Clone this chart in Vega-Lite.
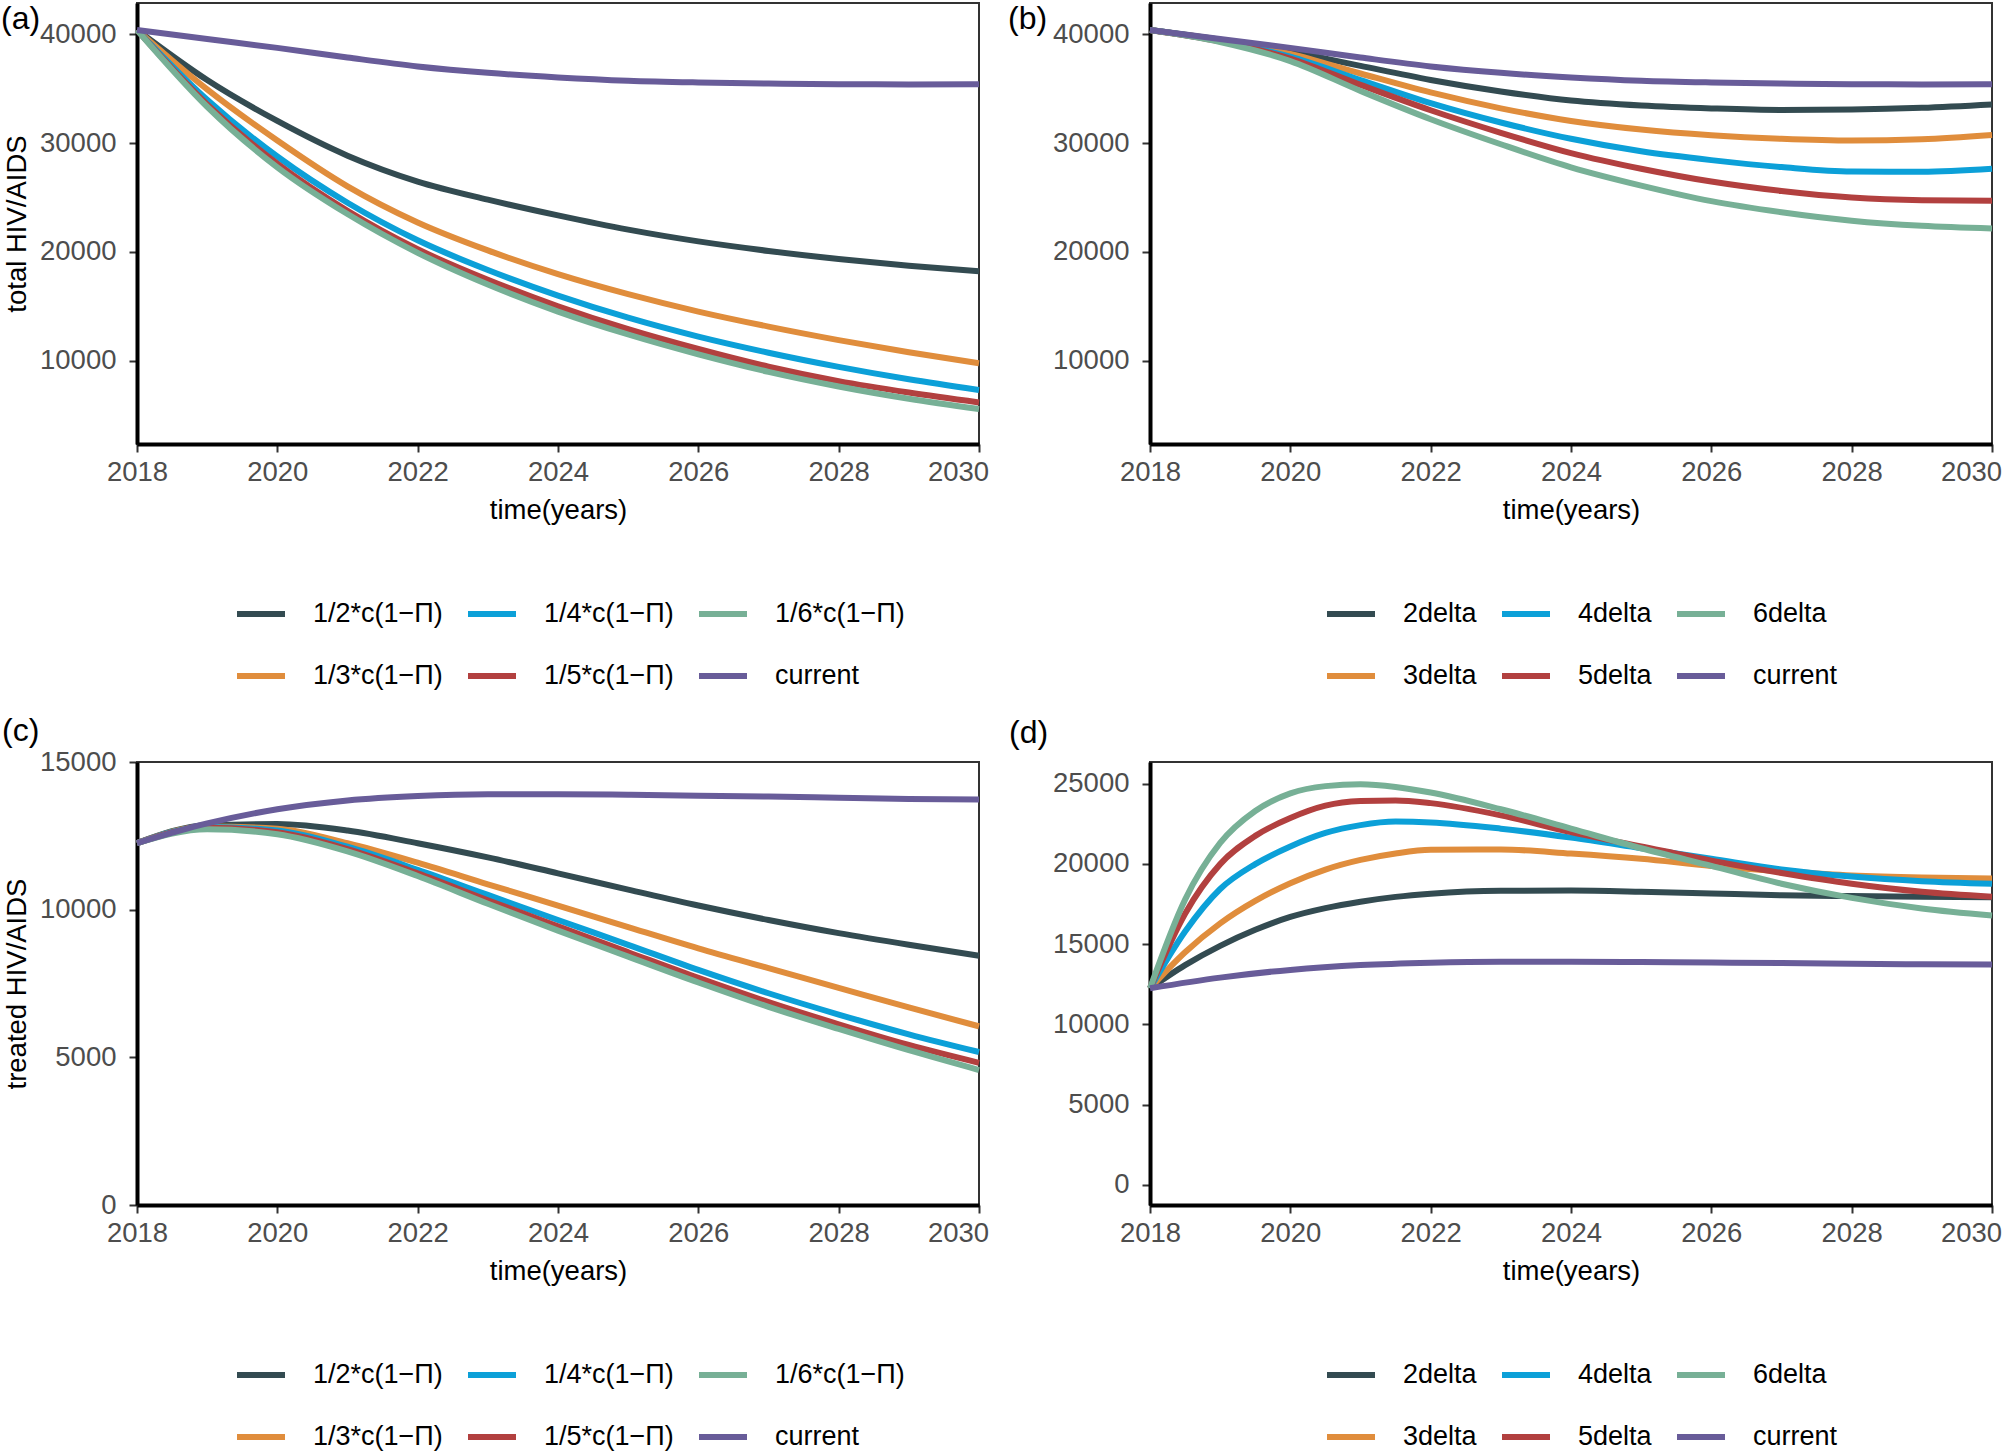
{
  "$schema": "https://vega.github.io/schema/vega-lite/v6.json",
  "background": "white",
  "padding": {"left": 0, "top": 2, "right": 0, "bottom": 0},
  "bounds": "flush",
  "columns": 2,
  "spacing": {"row": 318, "column": 171},
  "config": {
    "font": "Liberation Sans",
    "view": {"stroke": "#333333", "strokeWidth": 2},
    "axis": {
      "grid": false, "domainColor": "black", "domainWidth": 4,
      "tickColor": "#333333", "tickWidth": 2, "tickSize": 8,
      "labelFont": "Liberation Sans", "labelFontSize": 27.5, "labelColor": "#4D4D4D",
      "titleFont": "Liberation Sans", "titleFontSize": 27.5, "titleFontWeight": "normal", "titleColor": "black",
      "labelFlush": false, "labelOverlap": false
    },
    "axisX": {"labelPadding": 6, "titlePadding": 11},
    "axisY": {"labelPadding": 13, "titlePadding": 8},
    "legend": {
      "orient": "none", "direction": "horizontal", "columns": 3,
      "symbolType": "stroke", "symbolSize": 2304, "symbolStrokeWidth": 6,
      "labelFont": "Liberation Sans", "labelFontSize": 27, "labelColor": "black",
      "labelOffset": 25, "columnPadding": 13, "rowPadding": 22, "padding": 0, "labelLimit": 400
    },
    "title": {"font": "Liberation Sans", "fontSize": 32, "fontWeight": "normal", "color": "black"}
  },
  "resolve": {"scale": {"color": "independent"}, "legend": {"color": "independent"}},
  "datasets": {
    "a": [
      {"s": "1/2*c(1−Π)", "t": 2018, "v": 40400}, {"s": "1/2*c(1−Π)", "t": 2019, "v": 35800}, {"s": "1/2*c(1−Π)", "t": 2020, "v": 32040}, {"s": "1/2*c(1−Π)", "t": 2021, "v": 28850}, {"s": "1/2*c(1−Π)", "t": 2022, "v": 26470}, {"s": "1/2*c(1−Π)", "t": 2023, "v": 24810}, {"s": "1/2*c(1−Π)", "t": 2024, "v": 23360}, {"s": "1/2*c(1−Π)", "t": 2025, "v": 22050}, {"s": "1/2*c(1−Π)", "t": 2026, "v": 20970}, {"s": "1/2*c(1−Π)", "t": 2027, "v": 20095}, {"s": "1/2*c(1−Π)", "t": 2028, "v": 19360}, {"s": "1/2*c(1−Π)", "t": 2029, "v": 18740}, {"s": "1/2*c(1−Π)", "t": 2030, "v": 18220},
      {"s": "1/3*c(1−Π)", "t": 2018, "v": 40400}, {"s": "1/3*c(1−Π)", "t": 2019, "v": 34940}, {"s": "1/3*c(1−Π)", "t": 2020, "v": 30240}, {"s": "1/3*c(1−Π)", "t": 2021, "v": 26030}, {"s": "1/3*c(1−Π)", "t": 2022, "v": 22710}, {"s": "1/3*c(1−Π)", "t": 2023, "v": 20140}, {"s": "1/3*c(1−Π)", "t": 2024, "v": 17960}, {"s": "1/3*c(1−Π)", "t": 2025, "v": 16120}, {"s": "1/3*c(1−Π)", "t": 2026, "v": 14520}, {"s": "1/3*c(1−Π)", "t": 2027, "v": 13140}, {"s": "1/3*c(1−Π)", "t": 2028, "v": 11900}, {"s": "1/3*c(1−Π)", "t": 2029, "v": 10780}, {"s": "1/3*c(1−Π)", "t": 2030, "v": 9770},
      {"s": "1/4*c(1−Π)", "t": 2018, "v": 40400}, {"s": "1/4*c(1−Π)", "t": 2019, "v": 33990}, {"s": "1/4*c(1−Π)", "t": 2020, "v": 28770}, {"s": "1/4*c(1−Π)", "t": 2021, "v": 24520}, {"s": "1/4*c(1−Π)", "t": 2022, "v": 21070}, {"s": "1/4*c(1−Π)", "t": 2023, "v": 18340}, {"s": "1/4*c(1−Π)", "t": 2024, "v": 15990}, {"s": "1/4*c(1−Π)", "t": 2025, "v": 13960}, {"s": "1/4*c(1−Π)", "t": 2026, "v": 12220}, {"s": "1/4*c(1−Π)", "t": 2027, "v": 10740}, {"s": "1/4*c(1−Π)", "t": 2028, "v": 9440}, {"s": "1/4*c(1−Π)", "t": 2029, "v": 8300}, {"s": "1/4*c(1−Π)", "t": 2030, "v": 7310},
      {"s": "1/5*c(1−Π)", "t": 2018, "v": 40400}, {"s": "1/5*c(1−Π)", "t": 2019, "v": 33570}, {"s": "1/5*c(1−Π)", "t": 2020, "v": 28110}, {"s": "1/5*c(1−Π)", "t": 2021, "v": 23780}, {"s": "1/5*c(1−Π)", "t": 2022, "v": 20250}, {"s": "1/5*c(1−Π)", "t": 2023, "v": 17440}, {"s": "1/5*c(1−Π)", "t": 2024, "v": 15010}, {"s": "1/5*c(1−Π)", "t": 2025, "v": 12900}, {"s": "1/5*c(1−Π)", "t": 2026, "v": 11080}, {"s": "1/5*c(1−Π)", "t": 2027, "v": 9455}, {"s": "1/5*c(1−Π)", "t": 2028, "v": 8130}, {"s": "1/5*c(1−Π)", "t": 2029, "v": 7080}, {"s": "1/5*c(1−Π)", "t": 2030, "v": 6170},
      {"s": "1/6*c(1−Π)", "t": 2018, "v": 40400}, {"s": "1/6*c(1−Π)", "t": 2019, "v": 33345}, {"s": "1/6*c(1−Π)", "t": 2020, "v": 27780}, {"s": "1/6*c(1−Π)", "t": 2021, "v": 23485}, {"s": "1/6*c(1−Π)", "t": 2022, "v": 19920}, {"s": "1/6*c(1−Π)", "t": 2023, "v": 17006}, {"s": "1/6*c(1−Π)", "t": 2024, "v": 14520}, {"s": "1/6*c(1−Π)", "t": 2025, "v": 12414}, {"s": "1/6*c(1−Π)", "t": 2026, "v": 10590}, {"s": "1/6*c(1−Π)", "t": 2027, "v": 8984}, {"s": "1/6*c(1−Π)", "t": 2028, "v": 7640}, {"s": "1/6*c(1−Π)", "t": 2029, "v": 6513}, {"s": "1/6*c(1−Π)", "t": 2030, "v": 5570},
      {"s": "current", "t": 2018, "v": 40400}, {"s": "current", "t": 2019, "v": 39570}, {"s": "current", "t": 2020, "v": 38755}, {"s": "current", "t": 2021, "v": 37870}, {"s": "current", "t": 2022, "v": 37050}, {"s": "current", "t": 2023, "v": 36460}, {"s": "current", "t": 2024, "v": 36040}, {"s": "current", "t": 2025, "v": 35740}, {"s": "current", "t": 2026, "v": 35580}, {"s": "current", "t": 2027, "v": 35480}, {"s": "current", "t": 2028, "v": 35410}, {"s": "current", "t": 2029, "v": 35400}, {"s": "current", "t": 2030, "v": 35420}
    ],
    "b": [
      {"s": "2delta", "t": 2018, "v": 40400}, {"s": "2delta", "t": 2019, "v": 39500}, {"s": "2delta", "t": 2020, "v": 38430}, {"s": "2delta", "t": 2021, "v": 37100}, {"s": "2delta", "t": 2022, "v": 35810}, {"s": "2delta", "t": 2023, "v": 34750}, {"s": "2delta", "t": 2024, "v": 33910}, {"s": "2delta", "t": 2025, "v": 33450}, {"s": "2delta", "t": 2026, "v": 33190}, {"s": "2delta", "t": 2027, "v": 33050}, {"s": "2delta", "t": 2028, "v": 33090}, {"s": "2delta", "t": 2029, "v": 33250}, {"s": "2delta", "t": 2030, "v": 33560},
      {"s": "3delta", "t": 2018, "v": 40400}, {"s": "3delta", "t": 2019, "v": 39450}, {"s": "3delta", "t": 2020, "v": 38200}, {"s": "3delta", "t": 2021, "v": 36400}, {"s": "3delta", "t": 2022, "v": 34660}, {"s": "3delta", "t": 2023, "v": 33200}, {"s": "3delta", "t": 2024, "v": 32040}, {"s": "3delta", "t": 2025, "v": 31250}, {"s": "3delta", "t": 2026, "v": 30730}, {"s": "3delta", "t": 2027, "v": 30400}, {"s": "3delta", "t": 2028, "v": 30240}, {"s": "3delta", "t": 2029, "v": 30350}, {"s": "3delta", "t": 2030, "v": 30750},
      {"s": "4delta", "t": 2018, "v": 40400}, {"s": "4delta", "t": 2019, "v": 39400}, {"s": "4delta", "t": 2020, "v": 37940}, {"s": "4delta", "t": 2021, "v": 35800}, {"s": "4delta", "t": 2022, "v": 33680}, {"s": "4delta", "t": 2023, "v": 31900}, {"s": "4delta", "t": 2024, "v": 30400}, {"s": "4delta", "t": 2025, "v": 29250}, {"s": "4delta", "t": 2026, "v": 28440}, {"s": "4delta", "t": 2027, "v": 27800}, {"s": "4delta", "t": 2028, "v": 27390}, {"s": "4delta", "t": 2029, "v": 27380}, {"s": "4delta", "t": 2030, "v": 27650},
      {"s": "5delta", "t": 2018, "v": 40400}, {"s": "5delta", "t": 2019, "v": 39350}, {"s": "5delta", "t": 2020, "v": 37780}, {"s": "5delta", "t": 2021, "v": 35350}, {"s": "5delta", "t": 2022, "v": 33020}, {"s": "5delta", "t": 2023, "v": 30950}, {"s": "5delta", "t": 2024, "v": 29090}, {"s": "5delta", "t": 2025, "v": 27650}, {"s": "5delta", "t": 2026, "v": 26470}, {"s": "5delta", "t": 2027, "v": 25600}, {"s": "5delta", "t": 2028, "v": 25000}, {"s": "5delta", "t": 2029, "v": 24750}, {"s": "5delta", "t": 2030, "v": 24700},
      {"s": "6delta", "t": 2018, "v": 40400}, {"s": "6delta", "t": 2019, "v": 39300}, {"s": "6delta", "t": 2020, "v": 37540}, {"s": "6delta", "t": 2021, "v": 34800}, {"s": "6delta", "t": 2022, "v": 32200}, {"s": "6delta", "t": 2023, "v": 29900}, {"s": "6delta", "t": 2024, "v": 27780}, {"s": "6delta", "t": 2025, "v": 26100}, {"s": "6delta", "t": 2026, "v": 24670}, {"s": "6delta", "t": 2027, "v": 23650}, {"s": "6delta", "t": 2028, "v": 22870}, {"s": "6delta", "t": 2029, "v": 22400}, {"s": "6delta", "t": 2030, "v": 22150},
      {"s": "current", "t": 2018, "v": 40400}, {"s": "current", "t": 2019, "v": 39570}, {"s": "current", "t": 2020, "v": 38755}, {"s": "current", "t": 2021, "v": 37870}, {"s": "current", "t": 2022, "v": 37050}, {"s": "current", "t": 2023, "v": 36460}, {"s": "current", "t": 2024, "v": 36040}, {"s": "current", "t": 2025, "v": 35740}, {"s": "current", "t": 2026, "v": 35580}, {"s": "current", "t": 2027, "v": 35480}, {"s": "current", "t": 2028, "v": 35410}, {"s": "current", "t": 2029, "v": 35400}, {"s": "current", "t": 2030, "v": 35420}
    ],
    "c": [
      {"s": "1/2*c(1−Π)", "t": 2018, "v": 12254}, {"s": "1/2*c(1−Π)", "t": 2019, "v": 12860}, {"s": "1/2*c(1−Π)", "t": 2020, "v": 12900}, {"s": "1/2*c(1−Π)", "t": 2021, "v": 12680}, {"s": "1/2*c(1−Π)", "t": 2022, "v": 12250}, {"s": "1/2*c(1−Π)", "t": 2023, "v": 11770}, {"s": "1/2*c(1−Π)", "t": 2024, "v": 11230}, {"s": "1/2*c(1−Π)", "t": 2025, "v": 10680}, {"s": "1/2*c(1−Π)", "t": 2026, "v": 10140}, {"s": "1/2*c(1−Π)", "t": 2027, "v": 9650}, {"s": "1/2*c(1−Π)", "t": 2028, "v": 9205}, {"s": "1/2*c(1−Π)", "t": 2029, "v": 8810}, {"s": "1/2*c(1−Π)", "t": 2030, "v": 8440},
      {"s": "1/3*c(1−Π)", "t": 2018, "v": 12254}, {"s": "1/3*c(1−Π)", "t": 2019, "v": 12820}, {"s": "1/3*c(1−Π)", "t": 2020, "v": 12740}, {"s": "1/3*c(1−Π)", "t": 2021, "v": 12250}, {"s": "1/3*c(1−Π)", "t": 2022, "v": 11590}, {"s": "1/3*c(1−Π)", "t": 2023, "v": 10860}, {"s": "1/3*c(1−Π)", "t": 2024, "v": 10140}, {"s": "1/3*c(1−Π)", "t": 2025, "v": 9410}, {"s": "1/3*c(1−Π)", "t": 2026, "v": 8690}, {"s": "1/3*c(1−Π)", "t": 2027, "v": 8020}, {"s": "1/3*c(1−Π)", "t": 2028, "v": 7355}, {"s": "1/3*c(1−Π)", "t": 2029, "v": 6690}, {"s": "1/3*c(1−Π)", "t": 2030, "v": 6050},
      {"s": "1/4*c(1−Π)", "t": 2018, "v": 12254}, {"s": "1/4*c(1−Π)", "t": 2019, "v": 12800}, {"s": "1/4*c(1−Π)", "t": 2020, "v": 12680}, {"s": "1/4*c(1−Π)", "t": 2021, "v": 12130}, {"s": "1/4*c(1−Π)", "t": 2022, "v": 11350}, {"s": "1/4*c(1−Π)", "t": 2023, "v": 10500}, {"s": "1/4*c(1−Π)", "t": 2024, "v": 9650}, {"s": "1/4*c(1−Π)", "t": 2025, "v": 8810}, {"s": "1/4*c(1−Π)", "t": 2026, "v": 7960}, {"s": "1/4*c(1−Π)", "t": 2027, "v": 7170}, {"s": "1/4*c(1−Π)", "t": 2028, "v": 6450}, {"s": "1/4*c(1−Π)", "t": 2029, "v": 5780}, {"s": "1/4*c(1−Π)", "t": 2030, "v": 5180},
      {"s": "1/5*c(1−Π)", "t": 2018, "v": 12254}, {"s": "1/5*c(1−Π)", "t": 2019, "v": 12775}, {"s": "1/5*c(1−Π)", "t": 2020, "v": 12620}, {"s": "1/5*c(1−Π)", "t": 2021, "v": 12050}, {"s": "1/5*c(1−Π)", "t": 2022, "v": 11230}, {"s": "1/5*c(1−Π)", "t": 2023, "v": 10320}, {"s": "1/5*c(1−Π)", "t": 2024, "v": 9435}, {"s": "1/5*c(1−Π)", "t": 2025, "v": 8560}, {"s": "1/5*c(1−Π)", "t": 2026, "v": 7690}, {"s": "1/5*c(1−Π)", "t": 2027, "v": 6870}, {"s": "1/5*c(1−Π)", "t": 2028, "v": 6120}, {"s": "1/5*c(1−Π)", "t": 2029, "v": 5420}, {"s": "1/5*c(1−Π)", "t": 2030, "v": 4815},
      {"s": "1/6*c(1−Π)", "t": 2018, "v": 12254}, {"s": "1/6*c(1−Π)", "t": 2019, "v": 12725}, {"s": "1/6*c(1−Π)", "t": 2020, "v": 12555}, {"s": "1/6*c(1−Π)", "t": 2021, "v": 11975}, {"s": "1/6*c(1−Π)", "t": 2022, "v": 11140}, {"s": "1/6*c(1−Π)", "t": 2023, "v": 10200}, {"s": "1/6*c(1−Π)", "t": 2024, "v": 9290}, {"s": "1/6*c(1−Π)", "t": 2025, "v": 8410}, {"s": "1/6*c(1−Π)", "t": 2026, "v": 7535}, {"s": "1/6*c(1−Π)", "t": 2027, "v": 6710}, {"s": "1/6*c(1−Π)", "t": 2028, "v": 5960}, {"s": "1/6*c(1−Π)", "t": 2029, "v": 5240}, {"s": "1/6*c(1−Π)", "t": 2030, "v": 4570},
      {"s": "current", "t": 2018, "v": 12254}, {"s": "current", "t": 2019, "v": 12920}, {"s": "current", "t": 2020, "v": 13400}, {"s": "current", "t": 2021, "v": 13700}, {"s": "current", "t": 2022, "v": 13850}, {"s": "current", "t": 2023, "v": 13910}, {"s": "current", "t": 2024, "v": 13910}, {"s": "current", "t": 2025, "v": 13890}, {"s": "current", "t": 2026, "v": 13860}, {"s": "current", "t": 2027, "v": 13830}, {"s": "current", "t": 2028, "v": 13790}, {"s": "current", "t": 2029, "v": 13750}, {"s": "current", "t": 2030, "v": 13730}
    ],
    "d": [
      {"s": "2delta", "t": 2018, "v": 12254}, {"s": "2delta", "t": 2018.5, "v": 13700}, {"s": "2delta", "t": 2019, "v": 14900}, {"s": "2delta", "t": 2019.5, "v": 15900}, {"s": "2delta", "t": 2020, "v": 16700}, {"s": "2delta", "t": 2020.5, "v": 17250}, {"s": "2delta", "t": 2021, "v": 17650}, {"s": "2delta", "t": 2021.5, "v": 17950}, {"s": "2delta", "t": 2022, "v": 18150}, {"s": "2delta", "t": 2023, "v": 18330}, {"s": "2delta", "t": 2024, "v": 18340}, {"s": "2delta", "t": 2025, "v": 18270}, {"s": "2delta", "t": 2026, "v": 18160}, {"s": "2delta", "t": 2027, "v": 18050}, {"s": "2delta", "t": 2028, "v": 18000}, {"s": "2delta", "t": 2029, "v": 17960}, {"s": "2delta", "t": 2030, "v": 17930},
      {"s": "3delta", "t": 2018, "v": 12254}, {"s": "3delta", "t": 2018.5, "v": 14500}, {"s": "3delta", "t": 2019, "v": 16300}, {"s": "3delta", "t": 2019.5, "v": 17700}, {"s": "3delta", "t": 2020, "v": 18800}, {"s": "3delta", "t": 2020.5, "v": 19650}, {"s": "3delta", "t": 2021, "v": 20250}, {"s": "3delta", "t": 2021.5, "v": 20650}, {"s": "3delta", "t": 2022, "v": 20880}, {"s": "3delta", "t": 2023, "v": 20900}, {"s": "3delta", "t": 2024, "v": 20650}, {"s": "3delta", "t": 2025, "v": 20320}, {"s": "3delta", "t": 2026, "v": 19880}, {"s": "3delta", "t": 2027, "v": 19550}, {"s": "3delta", "t": 2028, "v": 19280}, {"s": "3delta", "t": 2029, "v": 19150}, {"s": "3delta", "t": 2030, "v": 19100},
      {"s": "4delta", "t": 2018, "v": 12254}, {"s": "4delta", "t": 2018.5, "v": 15790}, {"s": "4delta", "t": 2019, "v": 18440}, {"s": "4delta", "t": 2019.5, "v": 19990}, {"s": "4delta", "t": 2020, "v": 21090}, {"s": "4delta", "t": 2020.5, "v": 21930}, {"s": "4delta", "t": 2021, "v": 22420}, {"s": "4delta", "t": 2021.5, "v": 22640}, {"s": "4delta", "t": 2022, "v": 22590}, {"s": "4delta", "t": 2023, "v": 22200}, {"s": "4delta", "t": 2024, "v": 21640}, {"s": "4delta", "t": 2025, "v": 20980}, {"s": "4delta", "t": 2026, "v": 20320}, {"s": "4delta", "t": 2027, "v": 19660}, {"s": "4delta", "t": 2028, "v": 19215}, {"s": "4delta", "t": 2029, "v": 18930}, {"s": "4delta", "t": 2030, "v": 18770},
      {"s": "5delta", "t": 2018, "v": 12254}, {"s": "5delta", "t": 2018.5, "v": 16900}, {"s": "5delta", "t": 2019, "v": 19990}, {"s": "5delta", "t": 2019.5, "v": 21750}, {"s": "5delta", "t": 2020, "v": 22860}, {"s": "5delta", "t": 2020.5, "v": 23630}, {"s": "5delta", "t": 2021, "v": 23920}, {"s": "5delta", "t": 2021.5, "v": 23960}, {"s": "5delta", "t": 2022, "v": 23790}, {"s": "5delta", "t": 2023, "v": 23030}, {"s": "5delta", "t": 2024, "v": 21980}, {"s": "5delta", "t": 2025, "v": 21090}, {"s": "5delta", "t": 2026, "v": 20210}, {"s": "5delta", "t": 2027, "v": 19440}, {"s": "5delta", "t": 2028, "v": 18770}, {"s": "5delta", "t": 2029, "v": 18270}, {"s": "5delta", "t": 2030, "v": 17960},
      {"s": "6delta", "t": 2018, "v": 12254}, {"s": "6delta", "t": 2018.5, "v": 17780}, {"s": "6delta", "t": 2019, "v": 21310}, {"s": "6delta", "t": 2019.5, "v": 23300}, {"s": "6delta", "t": 2020, "v": 24400}, {"s": "6delta", "t": 2020.5, "v": 24850}, {"s": "6delta", "t": 2021, "v": 24960}, {"s": "6delta", "t": 2021.5, "v": 24800}, {"s": "6delta", "t": 2022, "v": 24450}, {"s": "6delta", "t": 2023, "v": 23410}, {"s": "6delta", "t": 2024, "v": 22200}, {"s": "6delta", "t": 2025, "v": 20980}, {"s": "6delta", "t": 2026, "v": 19880}, {"s": "6delta", "t": 2027, "v": 18770}, {"s": "6delta", "t": 2028, "v": 17890}, {"s": "6delta", "t": 2029, "v": 17230}, {"s": "6delta", "t": 2030, "v": 16790},
      {"s": "current", "t": 2018, "v": 12254}, {"s": "current", "t": 2019, "v": 12920}, {"s": "current", "t": 2020, "v": 13400}, {"s": "current", "t": 2021, "v": 13700}, {"s": "current", "t": 2022, "v": 13850}, {"s": "current", "t": 2023, "v": 13910}, {"s": "current", "t": 2024, "v": 13910}, {"s": "current", "t": 2025, "v": 13890}, {"s": "current", "t": 2026, "v": 13860}, {"s": "current", "t": 2027, "v": 13830}, {"s": "current", "t": 2028, "v": 13790}, {"s": "current", "t": 2029, "v": 13750}, {"s": "current", "t": 2030, "v": 13730}
    ]
  },
  "concat": [
    {
      "data": {"name": "a"},
      "width": 842, "height": 441,
      "title": {"text": "(a)", "anchor": "start", "frame": "group", "orient": "top", "offset": -58, "dx": -136, "baseline": "alphabetic"},
      "mark": {"type": "line", "strokeWidth": 6, "interpolate": "monotone"},
      "encoding": {
        "x": {"field": "t", "type": "quantitative", "scale": {"domain": [2018, 2030], "nice": false, "zero": false},
              "axis": {"values": [2018, 2020, 2022, 2024, 2026, 2028, 2030], "format": "d", "title": "time(years)",
                       "labelOffset": {"condition": {"test": "datum.value == 2030", "value": -21}, "value": 0}}},
        "y": {"field": "v", "type": "quantitative", "scale": {"domain": [2350, 42880], "nice": false, "zero": false},
              "axis": {"values": [10000, 20000, 30000, 40000], "format": "d", "title": "total HIV/AIDS"}},
        "color": {"field": "s", "type": "nominal",
                  "scale": {"domain": ["1/2*c(1−Π)", "1/4*c(1−Π)", "1/6*c(1−Π)", "1/3*c(1−Π)", "1/5*c(1−Π)", "current"],
                            "range": ["#334B51", "#0CA0D8", "#77B096", "#E08D3C", "#B2403F", "#685C99"]},
                  "legend": {"title": null, "legendX": 97, "legendY": 584}}
      }
    },
    {
      "data": {"name": "b"},
      "width": 842, "height": 441,
      "title": {"text": "(b)", "anchor": "start", "frame": "group", "orient": "top", "offset": -58, "dx": -142, "baseline": "alphabetic"},
      "mark": {"type": "line", "strokeWidth": 6, "interpolate": "monotone"},
      "encoding": {
        "x": {"field": "t", "type": "quantitative", "scale": {"domain": [2018, 2030], "nice": false, "zero": false},
              "axis": {"values": [2018, 2020, 2022, 2024, 2026, 2028, 2030], "format": "d", "title": "time(years)",
                       "labelOffset": {"condition": {"test": "datum.value == 2030", "value": -21}, "value": 0}}},
        "y": {"field": "v", "type": "quantitative", "scale": {"domain": [2350, 42880], "nice": false, "zero": false},
              "axis": {"values": [10000, 20000, 30000, 40000], "format": "d", "title": null}},
        "color": {"field": "s", "type": "nominal",
                  "scale": {"domain": ["2delta", "4delta", "6delta", "3delta", "5delta", "current"],
                            "range": ["#334B51", "#0CA0D8", "#77B096", "#E08D3C", "#B2403F", "#685C99"]},
                  "legend": {"title": null, "legendX": 174, "legendY": 584}}
      }
    },
    {
      "data": {"name": "c"},
      "width": 842, "height": 443,
      "title": {"text": "(c)", "anchor": "start", "frame": "group", "orient": "top", "offset": -25, "dx": -135, "baseline": "alphabetic"},
      "mark": {"type": "line", "strokeWidth": 6, "interpolate": "monotone"},
      "encoding": {
        "x": {"field": "t", "type": "quantitative", "scale": {"domain": [2018, 2030], "nice": false, "zero": false},
              "axis": {"values": [2018, 2020, 2022, 2024, 2026, 2028, 2030], "format": "d", "title": "time(years)",
                       "labelOffset": {"condition": {"test": "datum.value == 2030", "value": -21}, "value": 0}}},
        "y": {"field": "v", "type": "quantitative", "scale": {"domain": [0, 15000], "nice": false, "zero": false},
              "axis": {"values": [0, 5000, 10000, 15000], "format": "d", "title": "treated HIV/AIDS"}},
        "color": {"field": "s", "type": "nominal",
                  "scale": {"domain": ["1/2*c(1−Π)", "1/4*c(1−Π)", "1/6*c(1−Π)", "1/3*c(1−Π)", "1/5*c(1−Π)", "current"],
                            "range": ["#334B51", "#0CA0D8", "#77B096", "#E08D3C", "#B2403F", "#685C99"]},
                  "legend": {"title": null, "legendX": 97, "legendY": 586}}
      }
    },
    {
      "data": {"name": "d"},
      "width": 842, "height": 443,
      "title": {"text": "(d)", "anchor": "start", "frame": "group", "orient": "top", "offset": -13, "dx": -141, "baseline": "alphabetic"},
      "mark": {"type": "line", "strokeWidth": 6, "interpolate": "monotone"},
      "encoding": {
        "x": {"field": "t", "type": "quantitative", "scale": {"domain": [2018, 2030], "nice": false, "zero": false},
              "axis": {"values": [2018, 2020, 2022, 2024, 2026, 2028, 2030], "format": "d", "title": "time(years)",
                       "labelOffset": {"condition": {"test": "datum.value == 2030", "value": -21}, "value": 0}}},
        "y": {"field": "v", "type": "quantitative", "scale": {"domain": [-1246, 26352], "nice": false, "zero": false},
              "axis": {"values": [0, 5000, 10000, 15000, 20000, 25000], "format": "d", "title": null}},
        "color": {"field": "s", "type": "nominal",
                  "scale": {"domain": ["2delta", "4delta", "6delta", "3delta", "5delta", "current"],
                            "range": ["#334B51", "#0CA0D8", "#77B096", "#E08D3C", "#B2403F", "#685C99"]},
                  "legend": {"title": null, "legendX": 174, "legendY": 586}}
      }
    }
  ]
}
